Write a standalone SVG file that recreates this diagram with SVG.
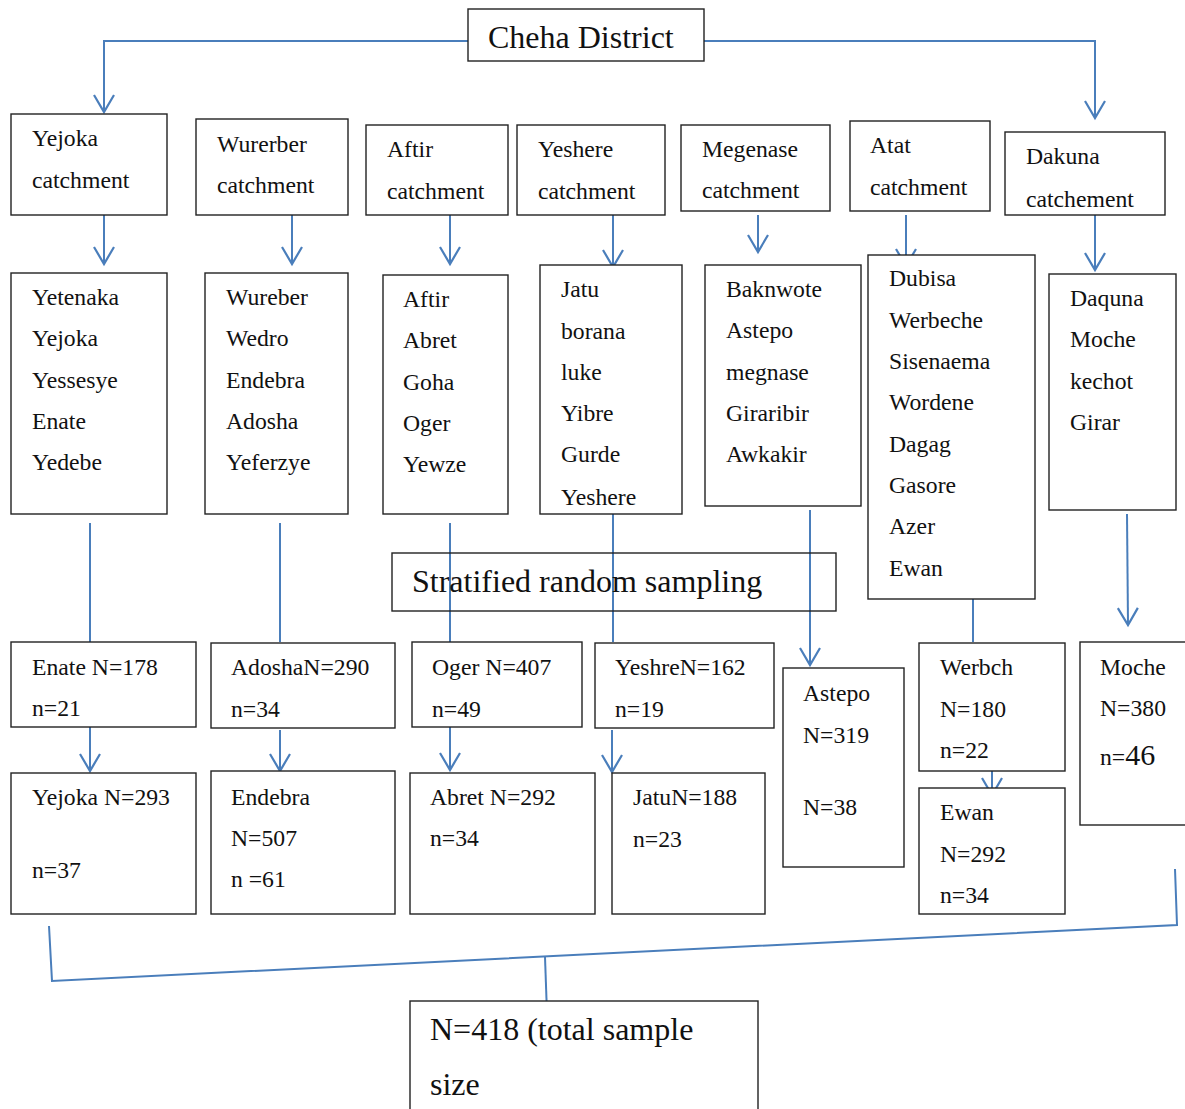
<svg xmlns="http://www.w3.org/2000/svg" width="1185" height="1109" viewBox="0 0 1185 1109">
<defs>
<marker id="ah" markerUnits="userSpaceOnUse" orient="auto" markerWidth="40" markerHeight="40" refX="0" refY="0" viewBox="-20 -20 40 40" overflow="visible">
<path d="M-17,-10 L0,0 L-17,10" fill="none" stroke="#4A7EBB" stroke-width="2.2"/>
</marker>
</defs>
<style>
.b{fill:#fff;stroke:#222;stroke-width:1.4}
.t{font-family:"Liberation Serif","Times New Roman",serif;font-size:23.7px;fill:#111}
.L{font-family:"Liberation Serif","Times New Roman",serif;font-size:32px;fill:#111}
.c{fill:none;stroke:#4A7EBB;stroke-width:2}
.a{fill:none;stroke:#4A7EBB;stroke-width:2;marker-end:url(#ah)}
</style>
<rect width="1185" height="1109" fill="#fff"/>
<g id="connectors">
<polyline class="a" points="468,41 104,41 104,112"/>
<polyline class="a" points="704,41 1095,41 1095,118"/>
<line class="a" x1="104" y1="215" x2="104" y2="264"/>
<line class="a" x1="292" y1="215" x2="292" y2="264"/>
<line class="a" x1="450" y1="215" x2="450" y2="264"/>
<line class="a" x1="613" y1="215" x2="613" y2="267"/>
<line class="a" x1="758" y1="215" x2="758" y2="252"/>
<line class="a" x1="906" y1="215" x2="906" y2="266"/>
<line class="a" x1="1095" y1="215" x2="1095" y2="270"/>
<line class="c" x1="90" y1="523" x2="90" y2="642"/>
<line class="c" x1="280" y1="523" x2="280" y2="642"/>
<line class="c" x1="450" y1="523" x2="450" y2="642"/>
<line class="c" x1="613" y1="514" x2="613" y2="642"/>
<line class="a" x1="810" y1="510" x2="810" y2="665"/>
<line class="c" x1="973" y1="599" x2="973" y2="642"/>
<line class="a" x1="1127" y1="514" x2="1128" y2="625"/>
<line class="a" x1="90" y1="727" x2="90" y2="771"/>
<line class="a" x1="280" y1="730" x2="280" y2="771"/>
<line class="a" x1="450" y1="727" x2="450" y2="770"/>
<line class="a" x1="612" y1="730" x2="612" y2="772"/>
<line class="a" x1="992" y1="771" x2="992" y2="795"/>
<polyline class="c" points="49,926 52,981 1177,925 1175,869"/>
<line class="c" x1="545" y1="957" x2="547" y2="1014"/>
</g>
<g id="cheha"><rect class="b" x="468" y="9" width="236" height="52"/><text class="L" x="488" y="48">Cheha District</text></g>
<g id="yejoka-c"><rect class="b" x="11" y="114" width="156" height="101"/><text class="t" x="32" y="146">Yejoka</text><text class="t" x="32" y="188">catchment</text></g>
<g id="wurerber-c"><rect class="b" x="196" y="119" width="152" height="96"/><text class="t" x="217" y="152">Wurerber</text><text class="t" x="217" y="193">catchment</text></g>
<g id="aftir-c"><rect class="b" x="366" y="125" width="142" height="90"/><text class="t" x="387" y="157">Aftir</text><text class="t" x="387" y="199">catchment</text></g>
<g id="yeshere-c"><rect class="b" x="517" y="125" width="148" height="90"/><text class="t" x="538" y="157">Yeshere</text><text class="t" x="538" y="199">catchment</text></g>
<g id="megenase-c"><rect class="b" x="681" y="125" width="149" height="86"/><text class="t" x="702" y="157">Megenase</text><text class="t" x="702" y="198">catchment</text></g>
<g id="atat-c"><rect class="b" x="850" y="121" width="140" height="90"/><text class="t" x="870" y="153">Atat</text><text class="t" x="870" y="195">catchment</text></g>
<g id="dakuna-c"><rect class="b" x="1005" y="132" width="160" height="83"/><text class="t" x="1026" y="164">Dakuna</text><text class="t" x="1026" y="207" font-size="21.5">catchement</text></g>
<g id="yejoka-list"><rect class="b" x="11" y="273" width="156" height="241"/><text class="t" x="32" y="305">Yetenaka</text><text class="t" x="32" y="346">Yejoka</text><text class="t" x="32" y="388">Yessesye</text><text class="t" x="32" y="429">Enate</text><text class="t" x="32" y="470">Yedebe</text></g>
<g id="wurerber-list"><rect class="b" x="205" y="273" width="143" height="241"/><text class="t" x="226" y="305">Wureber</text><text class="t" x="226" y="346">Wedro</text><text class="t" x="226" y="388">Endebra</text><text class="t" x="226" y="429">Adosha</text><text class="t" x="226" y="470">Yeferzye</text></g>
<g id="aftir-list"><rect class="b" x="383" y="275" width="125" height="239"/><text class="t" x="403" y="307">Aftir</text><text class="t" x="403" y="348">Abret</text><text class="t" x="403" y="390">Goha</text><text class="t" x="403" y="431">Oger</text><text class="t" x="403" y="472">Yewze</text></g>
<g id="yeshere-list"><rect class="b" x="540" y="265" width="142" height="249"/><text class="t" x="561" y="297">Jatu</text><text class="t" x="561" y="339">borana</text><text class="t" x="561" y="380">luke</text><text class="t" x="561" y="421">Yibre</text><text class="t" x="561" y="462">Gurde</text><text class="t" x="561" y="505">Yeshere</text></g>
<g id="megenase-list"><rect class="b" x="705" y="265" width="156" height="241"/><text class="t" x="726" y="297">Baknwote</text><text class="t" x="726" y="338">Astepo</text><text class="t" x="726" y="380">megnase</text><text class="t" x="726" y="421">Giraribir</text><text class="t" x="726" y="462">Awkakir</text></g>
<g id="atat-list"><rect class="b" x="868" y="255" width="167" height="344"/><text class="t" x="889" y="286">Dubisa</text><text class="t" x="889" y="328">Werbeche</text><text class="t" x="889" y="369">Sisenaema</text><text class="t" x="889" y="410">Wordene</text><text class="t" x="889" y="452">Dagag</text><text class="t" x="889" y="493">Gasore</text><text class="t" x="889" y="534">Azer</text><text class="t" x="889" y="576">Ewan</text></g>
<g id="dakuna-list"><rect class="b" x="1049" y="274" width="127" height="236"/><text class="t" x="1070" y="306">Daquna</text><text class="t" x="1070" y="347">Moche</text><text class="t" x="1070" y="389">kechot</text><text class="t" x="1070" y="430">Girar</text></g>
<g id="stratified"><rect class="b" x="392" y="553" width="444" height="58" style="fill:none"/><text class="L" x="412" y="592">Stratified random sampling</text></g>
<g id="enate"><rect class="b" x="11" y="642" width="185" height="85"/><text class="t" x="32" y="675">Enate N=178</text><text class="t" x="32" y="716">n=21</text></g>
<g id="adosha"><rect class="b" x="211" y="643" width="184" height="85"/><text class="t" x="231" y="675">AdoshaN=290</text><text class="t" x="231" y="717">n=34</text></g>
<g id="oger"><rect class="b" x="412" y="642" width="170" height="85"/><text class="t" x="432" y="675">Oger N=407</text><text class="t" x="432" y="717">n=49</text></g>
<g id="yeshre"><rect class="b" x="595" y="643" width="179" height="85"/><text class="t" x="615" y="675">YeshreN=162</text><text class="t" x="615" y="717">n=19</text></g>
<g id="astepo"><rect class="b" x="783" y="668" width="121" height="199"/><text class="t" x="803" y="701">Astepo</text><text class="t" x="803" y="743">N=319</text><text class="t" x="803" y="815">N=38</text></g>
<g id="werbch"><rect class="b" x="919" y="643" width="146" height="128"/><text class="t" x="940" y="675">Werbch</text><text class="t" x="940" y="717">N=180</text><text class="t" x="940" y="758">n=22</text></g>
<g id="moche"><rect class="b" x="1080" y="642" width="120" height="183"/><text class="t" x="1100" y="675">Moche</text><text class="t" x="1100" y="716">N=380</text><text class="t" x="1100" y="765">n=<tspan font-size="30">46</tspan></text></g>
<g id="yejoka-n"><rect class="b" x="11" y="773" width="185" height="141"/><text class="t" x="32" y="805">Yejoka N=293</text><text class="t" x="32" y="878">n=37</text></g>
<g id="endebra"><rect class="b" x="211" y="771" width="184" height="143"/><text class="t" x="231" y="805">Endebra</text><text class="t" x="231" y="846">N=507</text><text class="t" x="231" y="887">n =61</text></g>
<g id="abret"><rect class="b" x="410" y="773" width="185" height="141"/><text class="t" x="430" y="805">Abret N=292</text><text class="t" x="430" y="846">n=34</text></g>
<g id="jatu"><rect class="b" x="612" y="773" width="153" height="141"/><text class="t" x="633" y="805">JatuN=188</text><text class="t" x="633" y="847">n=23</text></g>
<g id="ewan"><rect class="b" x="919" y="788" width="146" height="126"/><text class="t" x="940" y="820">Ewan</text><text class="t" x="940" y="862">N=292</text><text class="t" x="940" y="903">n=34</text></g>
<g id="total"><rect class="b" x="410" y="1001" width="348" height="120"/><text class="L" x="430" y="1040">N=418 (total sample</text><text class="L" x="430" y="1095">size</text></g>
</svg>
